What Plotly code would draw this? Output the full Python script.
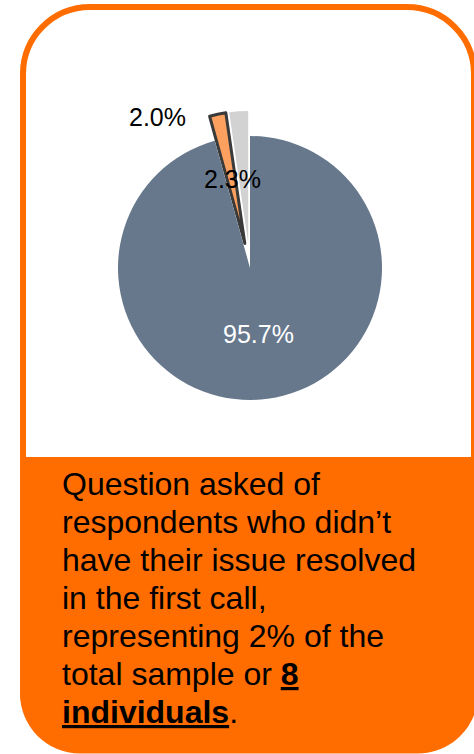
import plotly.graph_objects as go

W, H = 474, 754

# Share of respondents by answer (percent)
slice_names = ["Other", "Selected", "Remaining"]
slice_values = [2.3, 2.0, 95.7]
slice_colors = ["#D2D2D2", "#FBA05E", "#67788D"]

caption_lines = [
    "Question asked of",
    "respondents who didn\u2019t",
    "have their issue resolved",
    "in the first call,",
    "representing 2% of the",
    "total sample or <b><u>8</u></b>",
    "<b><u>individuals</u></b>.",
]

ORANGE = "#FF6D00"
FONT = "Liberation Sans, Arial, sans-serif"


def px(x, y):
    """Pixel position -> paper coordinates string."""
    return f"{x / W:.5f},{1 - y / H:.5f}"


def rounded_rect(x0, y0, x1, y1, r_top, r_bot):
    k = 0.5523
    p = [f"M {px(x0, y0 + r_top)}"]
    p.append(f"C {px(x0, y0 + r_top - k * r_top)} {px(x0 + r_top - k * r_top, y0)} {px(x0 + r_top, y0)}")
    p.append(f"L {px(x1 - r_top, y0)}")
    p.append(f"C {px(x1 - r_top + k * r_top, y0)} {px(x1, y0 + r_top - k * r_top)} {px(x1, y0 + r_top)}")
    p.append(f"L {px(x1, y1 - r_bot)}")
    p.append(f"C {px(x1, y1 - r_bot + k * r_bot)} {px(x1 - r_bot + k * r_bot, y1)} {px(x1 - r_bot, y1)}")
    p.append(f"L {px(x0 + r_bot, y1)}")
    p.append(f"C {px(x0 + r_bot - k * r_bot, y1)} {px(x0, y1 - r_bot + k * r_bot)} {px(x0, y1 - r_bot)}")
    p.append("Z")
    return " ".join(p)


def bottom_panel(x0, y0, x1, y1, r):
    k = 0.5523
    p = [f"M {px(x0, y0)}", f"L {px(x1, y0)}", f"L {px(x1, y1 - r)}"]
    p.append(f"C {px(x1, y1 - r + k * r)} {px(x1 - r + k * r, y1)} {px(x1 - r, y1)}")
    p.append(f"L {px(x0 + r, y1)}")
    p.append(f"C {px(x0 + r - k * r, y1)} {px(x0, y1 - r + k * r)} {px(x0, y1 - r)}")
    p.append("Z")
    return " ".join(p)


fig = go.Figure()

pull = 0.19
cx, cy, r = 250, 268, 132
half = r * (1 + pull)
# start the first slice at 12 o'clock and run counterclockwise
start_angle = -slice_values[0] / sum(slice_values) * 360
fig.add_trace(go.Pie(
    labels=slice_names,
    values=slice_values,
    sort=False,
    direction="counterclockwise",
    rotation=start_angle,
    pull=[pull, pull, 0],
    marker=dict(colors=slice_colors,
                line=dict(color=["#D2D2D2", "#3A3A3A", "#67788D"], width=[0, 3, 0])),
    textinfo="none",
    hoverinfo="label+percent",
    showlegend=False,
    domain=dict(x=[(cx - half) / W, (cx + half) / W],
                y=[1 - (cy + half) / H, 1 - (cy - half) / H]),
))

shapes = [
    dict(type="path", xref="paper", yref="paper", layer="below",
         path=rounded_rect(23, 7, 474, 750, 67, 60),
         fillcolor="white", line=dict(color=ORANGE, width=6)),
    dict(type="path", xref="paper", yref="paper", layer="below",
         path=bottom_panel(20, 457, 478, 753.5, 60),
         fillcolor=ORANGE, line=dict(width=0)),
]

annotations = []
# slice value labels
label_pos = [(232, 179, "black"), (157, 117, "black"), (258, 334, "white")]
for v, (lx, ly, col) in zip(slice_values, label_pos):
    annotations.append(dict(
        text=f"{v:.1f}%", x=lx / W, y=1 - ly / H, xref="paper", yref="paper",
        xanchor="center", yanchor="middle", showarrow=False,
        font=dict(family=FONT, size=25, color=col)))

# caption, one annotation per line for exact spacing
for i, line in enumerate(caption_lines):
    baseline = 495 + 38 * i
    annotations.append(dict(
        text=line, x=60 / W, y=1 - (baseline - 11) / H, xref="paper", yref="paper",
        xanchor="left", yanchor="middle", align="left", showarrow=False,
        font=dict(family=FONT, size=32, color="black")))

fig.update_layout(
    width=W, height=H,
    margin=dict(l=0, r=0, t=0, b=0),
    paper_bgcolor="white", plot_bgcolor="white",
    shapes=shapes, annotations=annotations,
)

fig.write_html("out.html")
